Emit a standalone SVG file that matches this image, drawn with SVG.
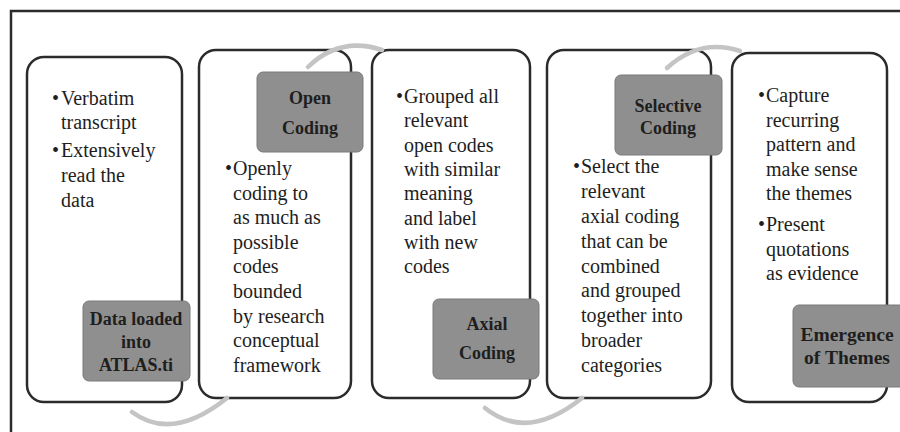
<svg xmlns="http://www.w3.org/2000/svg" width="900" height="432" viewBox="0 0 900 432">
<style>
.box{fill:#fff;stroke:#2b2b2b;stroke-width:2.5}
.lbl{fill:#8f8f8f;stroke:#7a7a7a;stroke-width:1}
.t{font-size:20px;fill:#1e1e1e}
.b{font-size:18px;font-weight:bold;fill:#1e1e1e;text-anchor:middle}
.big{font-size:19.5px}
.arc{fill:none;stroke:#c4c4c4;stroke-width:4.5;stroke-linecap:round}
.frame{fill:none;stroke:#2b2b2b;stroke-width:2.5}
</style>
<rect width="900" height="432" fill="#fff"/>
<path class="frame" d="M11,432 V11 H900"/>

<g font-family="'Liberation Serif', 'Times New Roman', 'DejaVu Serif', serif">
<g id="step1">
<rect class="box" x="27" y="57" width="155" height="345" rx="17"/>
<text class="t" x="52" y="105">•</text>
<text class="t" x="61" y="105">Verbatim</text>
<text class="t" x="61" y="129">transcript</text>
<text class="t" x="52" y="157">•</text>
<text class="t" x="61" y="157">Extensively</text>
<text class="t" x="61" y="182">read the</text>
<text class="t" x="61" y="207">data</text>
<rect class="lbl" x="83" y="301" width="107" height="80" rx="6"/>
<text class="b" x="136" y="325">Data loaded</text>
<text class="b" x="136" y="348">into</text>
<text class="b" x="136" y="371">ATLAS.ti</text>
</g>

<g id="step2">
<rect class="box" x="199" y="50" width="152" height="348" rx="17"/>
<text class="t" x="225" y="175">•</text>
<text class="t" x="233" y="175">Openly</text>
<text class="t" x="233" y="199.6">coding to</text>
<text class="t" x="233" y="224.2">as much as</text>
<text class="t" x="233" y="248.8">possible</text>
<text class="t" x="233" y="273.4">codes</text>
<text class="t" x="233" y="298">bounded</text>
<text class="t" x="233" y="322.6">by research</text>
<text class="t" x="233" y="347.2">conceptual</text>
<text class="t" x="233" y="371.8">framework</text>
<rect class="lbl" x="257" y="72" width="106" height="80" rx="6"/>
<text class="b" x="310" y="104">Open</text>
<text class="b" x="310" y="134">Coding</text>
</g>

<g id="step3">
<rect class="box" x="372" y="50" width="158" height="348" rx="17"/>
<text class="t" x="396" y="103">•</text>
<text class="t" x="404" y="103">Grouped all</text>
<text class="t" x="404" y="127.3">relevant</text>
<text class="t" x="404" y="151.6">open codes</text>
<text class="t" x="404" y="175.9">with similar</text>
<text class="t" x="404" y="200.2">meaning</text>
<text class="t" x="404" y="224.5">and label</text>
<text class="t" x="404" y="248.8">with new</text>
<text class="t" x="404" y="273">codes</text>
<rect class="lbl" x="433" y="299" width="106" height="80" rx="6"/>
<text class="b" x="487" y="330">Axial</text>
<text class="b" x="487" y="359">Coding</text>
</g>

<g id="step4">
<rect class="box" x="547" y="50" width="164" height="348" rx="17"/>
<text class="t" x="573" y="173">•</text>
<text class="t" x="581" y="173">Select the</text>
<text class="t" x="581" y="197.9">relevant</text>
<text class="t" x="581" y="222.8">axial coding</text>
<text class="t" x="581" y="247.6">that can be</text>
<text class="t" x="581" y="272.5">combined</text>
<text class="t" x="581" y="297.4">and grouped</text>
<text class="t" x="581" y="322.2">together into</text>
<text class="t" x="581" y="347.1">broader</text>
<text class="t" x="581" y="372">categories</text>
<rect class="lbl" x="615" y="75" width="107" height="80" rx="6"/>
<text class="b" x="668" y="112">Selective</text>
<text class="b" x="668" y="134">Coding</text>
</g>

<g id="step5">
<rect class="box" x="732" y="53" width="155" height="349" rx="17"/>
<text class="t" x="758" y="102">•</text>
<text class="t" x="766" y="102">Capture</text>
<text class="t" x="766" y="126.5">recurring</text>
<text class="t" x="766" y="151">pattern and</text>
<text class="t" x="766" y="175.5">make sense</text>
<text class="t" x="766" y="200">the themes</text>
<text class="t" x="758" y="231">•</text>
<text class="t" x="766" y="231">Present</text>
<text class="t" x="766" y="256">quotations</text>
<text class="t" x="766" y="280">as evidence</text>
<rect class="lbl" x="793" y="305" width="115" height="82" rx="6"/>
<text class="b big" x="847" y="341">Emergence</text>
<text class="b big" x="847" y="364">of Themes</text>
</g>
</g>

<g id="connectors">
<path class="arc" d="M308,67 Q340,36 382,50"/>
<path class="arc" d="M667,68 Q700,38 740,51"/>
<path class="arc" d="M132,412 Q172,442 227,398"/>
<path class="arc" d="M485,408 Q527,442 582,398"/>
</g>
</svg>
